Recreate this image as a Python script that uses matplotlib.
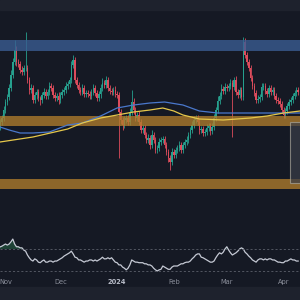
import numpy as np
import matplotlib.pyplot as plt
from matplotlib.patches import Rectangle

# daily closes, Oct 29 -> Apr 9 (price units, arbitrary scale)
closes = [78, 82, 90, 98, 103, 112, 125, 138, 150, 138,
          136, 130, 128, 132, 132, 120, 110, 112, 100, 105,
          108, 102, 100, 105, 108, 104, 108, 114, 112, 105,
          102, 104, 100, 105, 108, 110, 114, 116, 120, 135,
          140, 120, 115, 110, 108, 112, 106, 107, 106, 104,
          108, 112, 107, 102, 106, 112, 117, 115, 120, 112,
          109, 108, 110, 106, 105, 88, 80, 75, 80, 82,
          78, 88, 98, 90, 82, 85, 78, 70, 72, 65,
          60, 62, 55, 65, 60, 50, 52, 58, 60, 61,
          55, 48, 42, 38, 48, 45, 50, 52, 55, 50,
          55, 58, 60, 65, 70, 75, 80, 82, 78, 70,
          71, 67, 68, 72, 74, 69, 73, 82, 90, 99,
          104, 111, 109, 113, 112, 114, 117, 113, 120, 108,
          105, 110, 103, 158, 145, 138, 132, 122, 114, 107,
          100, 101, 103, 113, 114, 109, 106, 112, 108, 110,
          104, 100, 99, 96, 90, 85, 89, 94, 98, 100,
          104, 107, 110, 108]
first_open = 75

upper_wick = [3, 3, 4, 3, 3, 4, 5, 4, 10, 4,
              3, 3, 4, 3, 36, 3, 3, 4, 3, 3,
              3, 3, 2, 3, 4, 3, 3, 4, 3, 3,
              3, 3, 4, 3, 3, 3, 4, 3, 3, 4,
              5, 3, 3, 3, 3, 4, 3, 3, 3, 3,
              3, 4, 3, 3, 3, 4, 5, 3, 4, 3,
              3, 3, 3, 4, 3, 3, 3, 3, 4, 3,
              3, 4, 12, 4, 3, 3, 4, 3, 3, 3,
              3, 4, 3, 5, 3, 3, 3, 4, 3, 3,
              3, 3, 3, 3, 4, 3, 3, 3, 4, 3,
              3, 3, 4, 3, 3, 4, 4, 3, 3, 3,
              3, 3, 3, 4, 3, 3, 4, 4, 3, 5,
              4, 5, 3, 4, 3, 3, 4, 3, 3, 4,
              3, 3, 3, 5, 4, 3, 3, 3, 3, 3,
              3, 4, 3, 4, 3, 3, 3, 3, 3, 3,
              3, 3, 3, 3, 3, 3, 3, 3, 3, 3,
              3, 3, 3, 3]
lower_wick = [5, 3, 3, 3, 3, 3, 3, 3, 3, 4,
              3, 3, 3, 3, 3, 3, 4, 3, 3, 3,
              4, 3, 5, 3, 3, 3, 3, 3, 3, 3,
              3, 3, 4, 3, 3, 3, 3, 3, 3, 3,
              3, 3, 3, 3, 3, 3, 3, 3, 3, 3,
              3, 3, 3, 3, 3, 4, 3, 3, 3, 3,
              3, 3, 3, 3, 3, 46, 4, 5, 3, 3,
              3, 3, 3, 4, 3, 3, 3, 3, 3, 3,
              3, 3, 4, 3, 3, 3, 3, 3, 3, 3,
              3, 3, 4, 8, 3, 3, 3, 3, 3, 3,
              3, 3, 3, 3, 3, 3, 3, 3, 3, 4,
              3, 3, 3, 3, 3, 4, 3, 3, 3, 3,
              3, 3, 3, 3, 3, 3, 3, 50, 3, 3,
              3, 3, 3, 3, 3, 3, 3, 3, 3, 3,
              3, 3, 3, 3, 3, 3, 3, 3, 3, 3,
              3, 3, 3, 3, 3, 3, 3, 3, 3, 3,
              3, 3, 3, 3]

# moving averages read at a few points
ma_blue_days = [0, 5, 11, 18, 27, 37, 45, 55, 64, 73, 82, 90, 100, 109, 119, 137, 155, 164]
ma_blue = [73, 70, 67, 67, 68, 75, 77, 84, 92, 95, 97, 98, 95, 89, 87, 87, 87, 87]
ma_yellow_days = [0, 18, 37, 45, 55, 64, 73, 82, 89, 95, 100, 109, 122, 137, 146, 155, 164]
ma_yellow = [58, 63, 71, 77, 82, 85, 88, 90, 92, 89, 85, 81, 80, 82, 84, 87, 89]

rsi = [73.6, 75, 77, 79, 77, 79, 83, 88, 79, 74,
       74, 72, 72, 68, 66, 59, 54, 50, 48, 52,
       50, 46, 45, 48, 50, 46, 46, 48, 48, 46,
       48, 48, 50, 52, 54, 57, 59, 61, 63, 66,
       61, 55, 54, 50, 50, 48, 46, 48, 48, 50,
       50, 48, 50, 48, 50, 52, 55, 52, 52, 54,
       52, 54, 50, 46, 45, 41, 41, 37, 35, 32,
       35, 41, 50, 48, 46, 46, 45, 45, 45, 43,
       43, 41, 41, 39, 35, 32, 30, 32, 33, 39,
       37, 35, 33, 33, 37, 39, 39, 39, 41, 43,
       43, 45, 46, 46, 48, 52, 55, 59, 61, 61,
       55, 54, 52, 50, 48, 46, 46, 48, 54, 59,
       63, 61, 64, 70, 74, 68, 63, 59, 61, 63,
       66, 70, 72, 70, 64, 61, 57, 54, 50, 48,
       46, 50, 52, 52, 50, 52, 50, 52, 52, 50,
       50, 48, 46, 46, 45, 45, 48, 48, 50, 52,
       50, 50, 48, 48]

month_days = [3, 33, 64, 95, 124, 155]
month_labels = ['Nov', 'Dec', '2024', 'Feb', 'Mar', 'Apr']

# zones (price ranges)
resistance = (149, 160)
support_hi = (74, 84)
support_lo = (11, 21)
box_zone = (158.5, 17, 78)

bg = '#151924'
bar_bg = '#1e222d'
green = '#26a08e'
red = '#dc4c5c'

fig = plt.figure(figsize=(3, 3), dpi=100, facecolor=bg)
fig.patches.append(Rectangle((0, 290 / 300), 1, 10 / 300, transform=fig.transFigure,
                             color=bar_bg, zorder=0))
fig.patches.append(Rectangle((0, 0), 1, 13 / 300, transform=fig.transFigure,
                             color=bar_bg, zorder=0))

ax = fig.add_axes([0, 100 / 300, 1, 190 / 300])
ax.set_facecolor(bg)
days = np.arange(len(closes))
c = np.array(closes, dtype=float)
o = np.concatenate([[first_open], c[:-1]])
hi = np.maximum(o, c) + np.array(upper_wick)
lo = np.minimum(o, c) - np.array(lower_wick)
cols = np.where(c >= o, green, red)

ax.vlines(days, lo, hi, colors=cols, linewidth=0.6, zorder=2)
ax.bar(days, c - o, bottom=o, width=0.8, color=cols, linewidth=0, zorder=2)

ax.axhspan(*resistance, color='#3a5c92', alpha=0.8, lw=0, zorder=3)
ax.axhspan(*support_hi, color='#b07d2c', alpha=0.78, lw=0, zorder=3)
ax.axhspan(*support_lo, color='#b07d2c', alpha=0.78, lw=0, zorder=3)
ax.add_patch(Rectangle((box_zone[0], box_zone[1]), 20, box_zone[2] - box_zone[1],
                       facecolor='#3a3d48', alpha=0.7, edgecolor='#a8a59a', lw=0.8, zorder=4))

ax.plot(ma_blue_days, ma_blue, color='#4a78cc', lw=0.9, zorder=5)
ax.plot(ma_yellow_days, ma_yellow, color='#e6c84b', lw=0.9, zorder=5)

ax.set_xlim(0, 164)
ax.set_ylim(0, 190)
ax.axis('off')

# RSI panel
ax2 = fig.add_axes([0, 23 / 300, 1, 77 / 300])
ax2.set_facecolor(bg)
r = np.array(rsi)
ax2.plot(days, r, color='#c5c9d4', lw=0.9)
ax2.fill_between(days, 70, r, where=r > 70, interpolate=True, color='#2f8f5a', alpha=0.35, lw=0)
for lvl in (70, 30):
    ax2.axhline(lvl, color='#5c606b', lw=0.6, dashes=(2.5, 2.5))
ax2.set_xlim(0, 164)
ax2.set_ylim(19, 159)
ax2.set_yticks([])
for s in ax2.spines.values():
    s.set_visible(False)
ax2.set_xticks(month_days)
ax2.set_xticklabels(month_labels, fontsize=4.8, color='#8b8f9b')
ax2.tick_params(axis='x', length=0, pad=1.5)
for lab in ax2.get_xticklabels():
    if lab.get_text() == '2024':
        lab.set_fontweight('bold')
        lab.set_color('#b8bcc8')

plt.savefig('out.png', dpi=100, facecolor=bg)
